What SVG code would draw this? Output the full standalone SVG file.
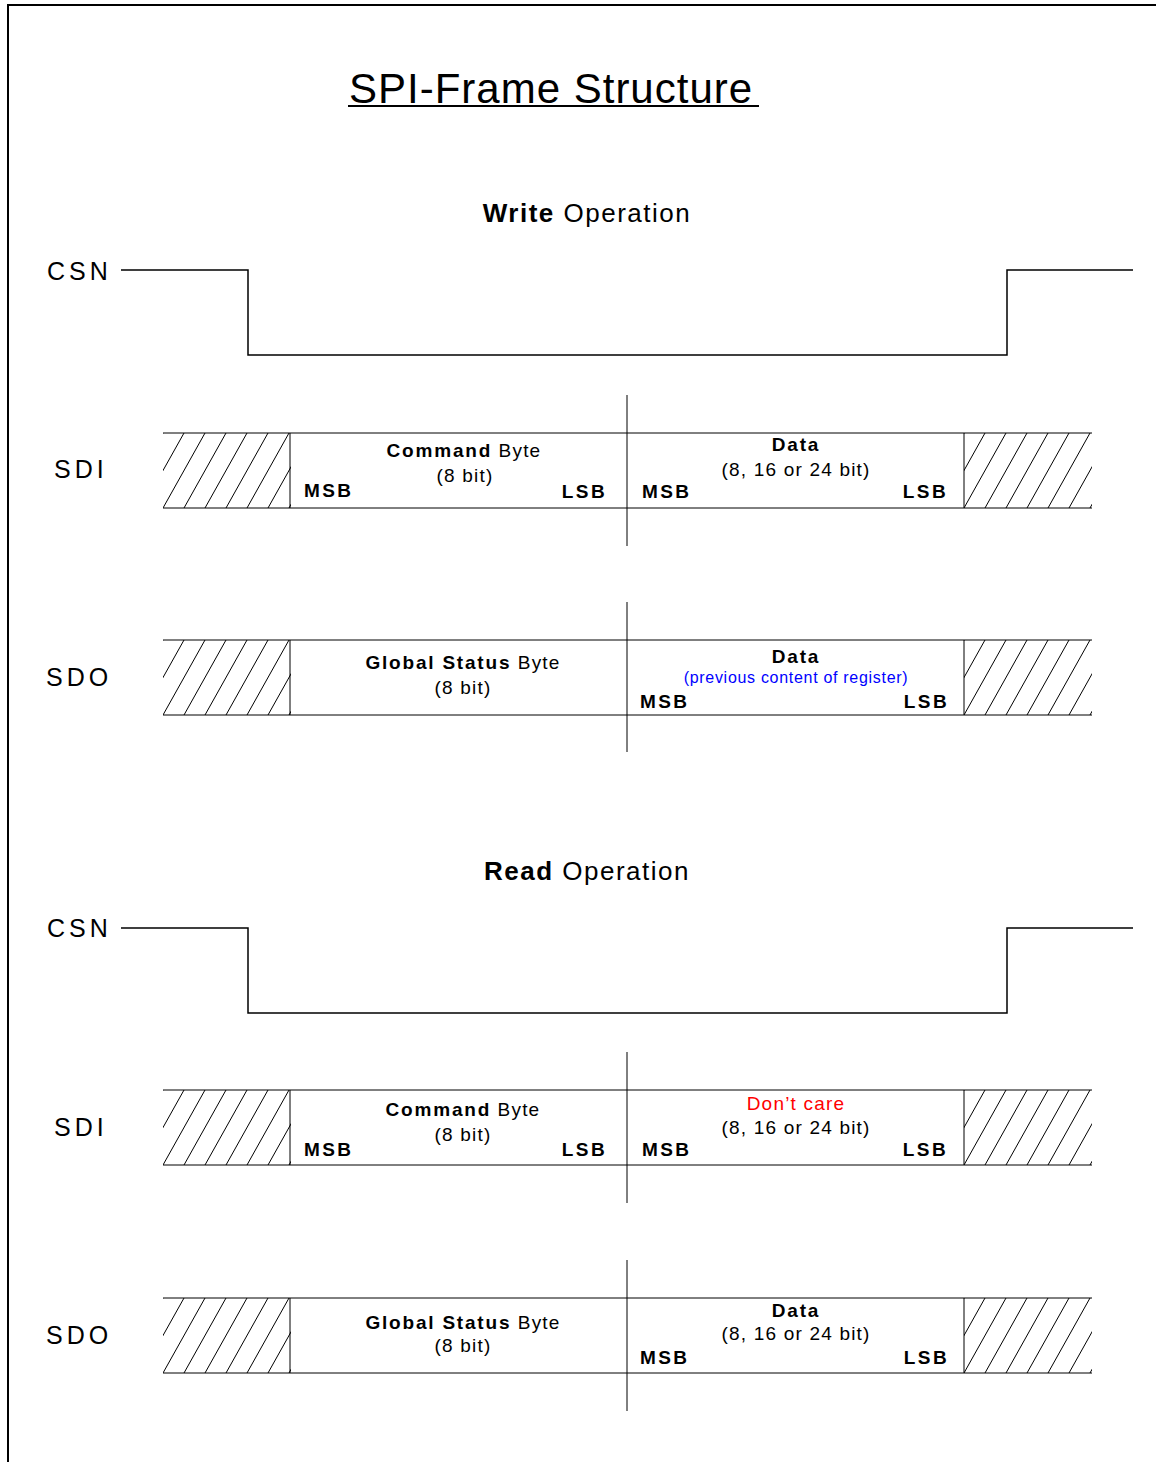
<svg xmlns="http://www.w3.org/2000/svg" xmlns:xlink="http://www.w3.org/1999/xlink" width="1156" height="1462" viewBox="0 0 1156 1462">
<style>
.t{font-family:"Liberation Sans",Arial,sans-serif;fill:#000}
.title{font-size:42px;letter-spacing:1px}
.op{font-size:26px;letter-spacing:1.5px;text-anchor:middle}
.sig{font-size:25px;letter-spacing:4px}
.m{font-size:19px;letter-spacing:1.2px;text-anchor:middle}
.b{font-weight:bold;letter-spacing:1.8px}
.bit{font-size:19px;font-weight:bold;letter-spacing:2.4px}
.end{text-anchor:end}
.blue{fill:#0000ff;font-size:16px;letter-spacing:0.7px}
.red{fill:#ff0000}
.ln{stroke:#000;stroke-width:1;fill:none}
.wave{stroke:#000;stroke-width:1.5;fill:none}
.border{stroke:#000;stroke-width:2;fill:none}
</style>
<defs>
<symbol id="hatch" viewBox="0 0 128 75" width="128" height="75">
<g class="ln">
<line x1="-42" y1="75" x2="0" y2="0"/>
<line x1="-21" y1="75" x2="21" y2="0"/>
<line x1="0" y1="75" x2="42" y2="0"/>
<line x1="21" y1="75" x2="63" y2="0"/>
<line x1="42" y1="75" x2="84" y2="0"/>
<line x1="63" y1="75" x2="105" y2="0"/>
<line x1="84" y1="75" x2="126" y2="0"/>
<line x1="105" y1="75" x2="147" y2="0"/>
<line x1="126" y1="75" x2="168" y2="0"/>
</g>
</symbol>
</defs>
<rect x="0" y="0" width="1156" height="1462" fill="#fff"/>
<path class="border" d="M8,1462 V5 H1156"/>

<g id="title">
<text class="t title" x="349" y="103">SPI-Frame Structure</text>
<line x1="348" y1="106" x2="759" y2="106" stroke="#000" stroke-width="2"/>
</g>

<g id="write-heading">
<text class="t op" x="587" y="222"><tspan font-weight="bold">Write</tspan> Operation</text>
</g>

<g id="write-csn">
<text class="t sig" x="47" y="280">CSN</text>
<path class="wave" d="M121,270 H248 V355 H1007 V270 H1133"/>
</g>

<g id="write-sdi">
<text class="t sig" x="54" y="478">SDI</text>
<use xlink:href="#hatch" x="163" y="433"/>
<use xlink:href="#hatch" x="964" y="433"/>
<path class="ln" d="M163,433 H1092 M163,508 H1092 M290,433 V508 M964,433 V508 M627,395 V546"/>
<text class="t m" x="464" y="457"><tspan class="b">Command</tspan> Byte</text>
<text class="t m" x="465" y="482">(8 bit)</text>
<text class="t bit" x="304" y="497">MSB</text>
<text class="t bit end" x="607" y="498">LSB</text>
<text class="t m" x="796" y="451"><tspan class="b">Data</tspan></text>
<text class="t m" x="796" y="476">(8, 16 or 24 bit)</text>
<text class="t bit" x="642" y="498">MSB</text>
<text class="t bit end" x="948" y="498">LSB</text>
</g>

<g id="write-sdo">
<text class="t sig" x="46" y="686">SDO</text>
<use xlink:href="#hatch" x="163" y="640"/>
<use xlink:href="#hatch" x="964" y="640"/>
<path class="ln" d="M163,640 H1092 M163,715 H1092 M290,640 V715 M964,640 V715 M627,602 V752"/>
<text class="t m" x="463" y="669"><tspan class="b">Global Status</tspan> Byte</text>
<text class="t m" x="463" y="694">(8 bit)</text>
<text class="t m" x="796" y="663"><tspan class="b">Data</tspan></text>
<text class="t m blue" x="796" y="683">(previous content of register)</text>
<text class="t bit" x="640" y="708">MSB</text>
<text class="t bit end" x="949" y="708">LSB</text>
</g>

<g id="read-heading">
<text class="t op" x="587" y="880"><tspan font-weight="bold">Read</tspan> Operation</text>
</g>

<g id="read-csn">
<text class="t sig" x="47" y="937">CSN</text>
<path class="wave" d="M121,928 H248 V1013 H1007 V928 H1133"/>
</g>

<g id="read-sdi">
<text class="t sig" x="54" y="1136">SDI</text>
<use xlink:href="#hatch" x="163" y="1090"/>
<use xlink:href="#hatch" x="964" y="1090"/>
<path class="ln" d="M163,1090 H1092 M163,1165 H1092 M290,1090 V1165 M964,1090 V1165 M627,1052 V1203"/>
<text class="t m" x="463" y="1116"><tspan class="b">Command</tspan> Byte</text>
<text class="t m" x="463" y="1141">(8 bit)</text>
<text class="t bit" x="304" y="1156">MSB</text>
<text class="t bit end" x="607" y="1156">LSB</text>
<text class="t m red" x="796" y="1110">Don’t care</text>
<text class="t m" x="796" y="1134">(8, 16 or 24 bit)</text>
<text class="t bit" x="642" y="1156">MSB</text>
<text class="t bit end" x="948" y="1156">LSB</text>
</g>

<g id="read-sdo">
<text class="t sig" x="46" y="1344">SDO</text>
<use xlink:href="#hatch" x="163" y="1298"/>
<use xlink:href="#hatch" x="964" y="1298"/>
<path class="ln" d="M163,1298 H1092 M163,1373 H1092 M290,1298 V1373 M964,1298 V1373 M627,1260 V1411"/>
<text class="t m" x="463" y="1329"><tspan class="b">Global Status</tspan> Byte</text>
<text class="t m" x="463" y="1352">(8 bit)</text>
<text class="t m" x="796" y="1317"><tspan class="b">Data</tspan></text>
<text class="t m" x="796" y="1340">(8, 16 or 24 bit)</text>
<text class="t bit" x="640" y="1364">MSB</text>
<text class="t bit end" x="949" y="1364">LSB</text>
</g>
</svg>
